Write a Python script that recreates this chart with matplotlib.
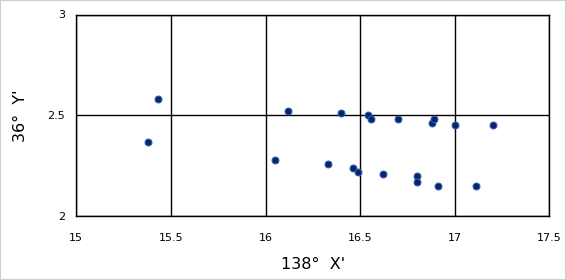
import matplotlib
matplotlib.use("Agg")
import matplotlib.pyplot as plt
from matplotlib.patches import Rectangle

x_vals = [15.38, 15.43, 16.05, 16.12, 16.33, 16.40, 16.46, 16.49, 16.54, 16.56,
          16.62, 16.70, 16.80, 16.80, 16.88, 16.89, 16.91, 17.00, 17.11, 17.20]
y_vals = [2.37, 2.58, 2.28, 2.52, 2.26, 2.51, 2.24, 2.22, 2.50, 2.48,
          2.21, 2.48, 2.20, 2.17, 2.46, 2.48, 2.15, 2.45, 2.15, 2.45]
x_ticks = [15, 15.5, 16, 16.5, 17, 17.5]
x_tick_labels = ["15", "15.5", "16", "16.5", "17", "17.5"]
y_ticks = [2, 2.5, 3]
y_tick_labels = ["2", "2.5", "3"]
x_label = "138°  X'"
y_label = "36°  Y'"

plt.rcParams['font.family'] = ['DejaVu Sans']
fig = plt.figure(figsize=(5.66, 2.80), dpi=100)
W, H = 566, 280
ax = fig.add_axes([76.3 / W, 1 - 216.3 / H, (549.3 - 76.3) / W, (216.3 - 14.5) / H])

ax.scatter(x_vals, y_vals, s=24, c="#0b2466", edgecolors="#2a5cb0", linewidths=0.8, zorder=3)

ax.set_xlim(15, 17.5)
ax.set_ylim(2, 3)
ax.set_xticks(x_ticks)
ax.set_xticklabels(x_tick_labels)
ax.set_yticks(y_ticks)
ax.set_yticklabels(y_tick_labels)
ax.grid(True, color="black", linewidth=1.0)
ax.set_axisbelow(True)
for sp in ax.spines.values():
    sp.set_color("black")
    sp.set_linewidth(1.0)
ax.tick_params(length=0, labelsize=8, pad=12)
ax.tick_params(axis='y', pad=8)
ax.set_xlabel(x_label, fontsize=11.5, labelpad=10)
ax.set_ylabel(y_label, fontsize=11.5, labelpad=14)

fig.patches.append(Rectangle((0, 0), 1, 1, transform=fig.transFigure, fill=False,
                             edgecolor="#c8d0c8", linewidth=1.5))

fig.savefig("out.png", dpi=100)
